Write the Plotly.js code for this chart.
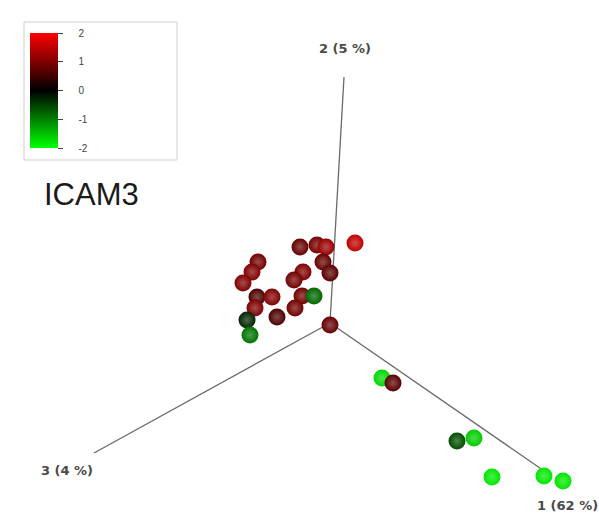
<!DOCTYPE html>
<html>
<head>
<meta charset="utf-8">
<script src="https://cdn.plot.ly/plotly-3.0.1.min.js"></script>
<style>html,body{margin:0;padding:0;background:#fff;}#chart{width:599px;height:513px;}</style>
</head>
<body>
<div id="chart"></div>
<script>
// Projected PCA positions and ICAM3 expression
const pcX = [330, 355, 300, 317, 326, 323, 330, 258, 252, 243, 303, 294, 257, 272, 302, 314, 255, 295, 277, 247, 250, 382, 393, 457, 474, 492, 544, 563];
const pcY = [325, 243, 247, 245, 247, 262, 273, 262, 272, 283, 272, 280, 297, 297, 296, 296, 308, 308, 317, 320, 335, 378, 383, 441, 438, 477, 476, 481];
const icam3 = [0.8, 1.5, 0.8, 0.9, 1.2, 0.8, 0.7, 0.9, 1.0, 1.0, 1.0, 0.9, 0.6, 1.0, 0.9, -0.8, 1.0, 0.9, 0.6, -0.3, -0.9, -1.7, 0.7, -0.6, -1.6, -1.8, -1.8, -1.8];

// Axis end points (origin and tips) and labels
const axOrigin = [330, 323];
const axTipX = [550, 344, 94];
const axTipY = [475, 77, 453];
const axLabels = ['1 (62 %)', '2 (5 %)', '3 (4 %)'];
const axLabelX = [567, 345, 67];
const axLabelY = [505, 48, 470];
const cbTicks = [2, 1, 0, -1, -2];

function colorFor(v) {
  const t = Math.max(-1, Math.min(1, v / 2));
  if (t >= 0) return [Math.round(255 * t), 0, 0];
  return [0, Math.round(255 * -t), 0];
}
function light(v) {
  const c = colorFor(v);
  const m = c.map(x => Math.round(x + (255 - x) * 0.3));
  return 'rgb(' + m.join(',') + ')';
}

const traces = [];
const lineX = [], lineY = [];
for (let i = 0; i < 3; i++) {
  lineX.push(axOrigin[0], axTipX[i], null);
  lineY.push(axOrigin[1], axTipY[i], null);
}
traces.push({
  x: lineX, y: lineY, mode: 'lines', type: 'scatter',
  line: {color: '#6a6a6a', width: 1.3}, hoverinfo: 'skip', showlegend: false
});
traces.push({
  x: pcX, y: pcY, mode: 'markers', type: 'scatter', showlegend: false,
  marker: {
    size: 17, color: icam3, cmin: -2, cmax: 2,
    colorscale: [[0, '#00ff00'], [0.5, '#000000'], [1, '#ff0000']],
    gradient: {type: 'radial', color: icam3.map(light)},
    line: {width: 0},
    showscale: true,
    colorbar: {
      x: 30 / 599, xanchor: 'left', xref: 'paper',
      y: 1 - 33 / 513, yanchor: 'top',
      len: 115, lenmode: 'pixels', thickness: 28, thicknessmode: 'pixels',
      outlinewidth: 0, ticks: 'outside', ticklen: 5, tickcolor: '#444',
      tickvals: cbTicks, ticktext: cbTicks.map(v => '\u00a0\u00a0\u00a0\u00a0\u00a0' + v),
      tickfont: {family: 'Liberation Sans, Arial, sans-serif', size: 10, color: '#444'},
      xpad: 0, ypad: 0, bgcolor: 'rgba(0,0,0,0)'
    }
  }
});

const annotations = axLabels.map((t, i) => ({
  x: axLabelX[i], y: axLabelY[i], xref: 'x', yref: 'y', text: '<b>' + t + '</b>',
  xanchor: 'center', yanchor: 'middle',
  showarrow: false, font: {family: 'DejaVu Sans, sans-serif', size: 13, color: '#4a4a4a'}
}));
annotations.push({
  x: 91 / 599, y: 1 - 195 / 513, xref: 'paper', yref: 'paper', text: 'ICAM3',
  xanchor: 'center', yanchor: 'middle',
  showarrow: false, font: {family: 'Liberation Sans, Arial, sans-serif', size: 31, color: '#1a1a1a'}
});

const layout = {
  width: 599, height: 513,
  margin: {l: 0, r: 0, t: 0, b: 0},
  paper_bgcolor: '#fff', plot_bgcolor: '#fff',
  xaxis: {range: [0, 599], visible: false, fixedrange: true},
  yaxis: {range: [513, 0], visible: false, fixedrange: true},
  annotations: annotations,
  shapes: [{
    type: 'rect', xref: 'paper', yref: 'paper',
    x0: 24 / 599, x1: 177 / 599, y0: 1 - 160 / 513, y1: 1 - 22 / 513,
    line: {color: '#cfcfcf', width: 1}, fillcolor: 'rgba(0,0,0,0)', layer: 'below'
  }]
};

Plotly.newPlot('chart', traces, layout, {displayModeBar: false, staticPlot: true});
</script>
</body>
</html>
